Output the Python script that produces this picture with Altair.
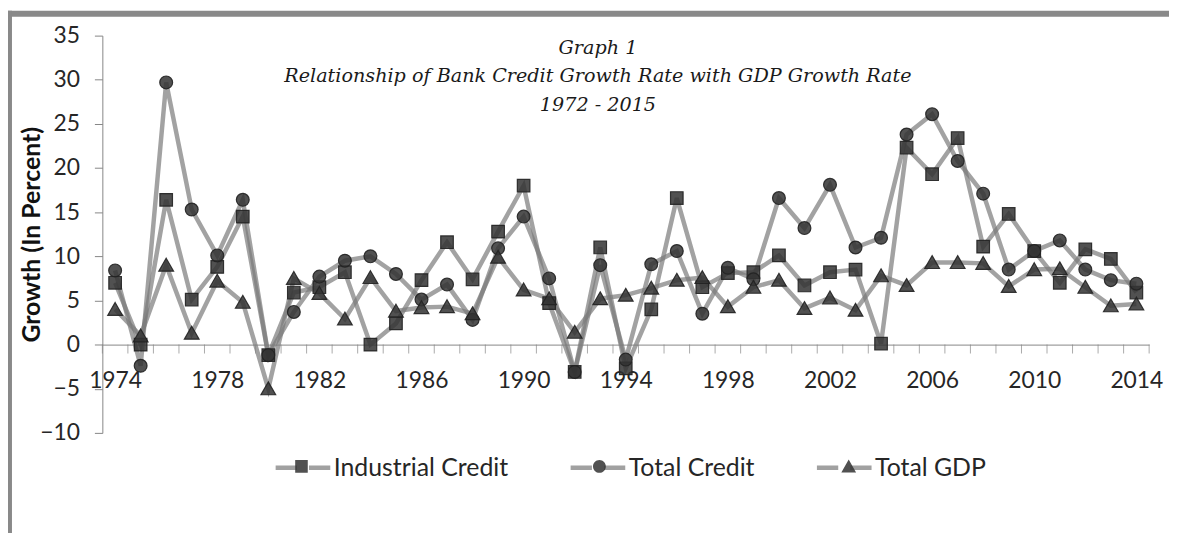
import altair as alt
import pandas as pd

years = list(range(1974, 2015))
industrial = [7.0, 0.0, 16.4, 5.1, 8.8, 14.5, -1.2, 5.9, 6.5, 8.2,
              0.0, 2.4, 7.3, 11.6, 7.4, 12.8, 18.0, 4.7, -3.1, 11.0,
              -2.7, 4.0, 16.6, 6.5, 8.1, 8.2, 10.1, 6.7, 8.2, 8.5,
              0.1, 22.3, 19.3, 23.4, 11.1, 14.8, 10.6, 7.0, 10.8, 9.7, 5.9]
total_credit = [8.4, -2.4, 29.7, 15.3, 10.1, 16.4, -1.2, 3.7, 7.7, 9.5,
                10.0, 8.0, 5.1, 6.8, 2.8, 10.9, 14.5, 7.5, -3.1, 9.0,
                -1.7, 9.1, 10.6, 3.5, 8.7, 7.4, 16.6, 13.2, 18.1, 11.0,
                12.1, 23.8, 26.1, 20.8, 17.1, 8.5, 10.6, 11.8, 8.5, 7.3, 6.9]
total_gdp = [4.0, 1.0, 9.0, 1.3, 7.2, 4.8, -5.0, 7.5, 5.8, 2.9,
             7.6, 3.8, 4.2, 4.3, 3.5, 9.9, 6.2, 5.2, 1.4, 5.2,
             5.6, 6.4, 7.3, 7.6, 4.3, 6.5, 7.3, 4.1, 5.3, 3.9,
             7.8, 6.7, 9.3, 9.3, 9.2, 6.6, 8.5, 8.6, 6.5, 4.4, 4.6]
series_names = ["Industrial Credit", "Total Credit", "Total GDP"]
y_ticks = list(range(-10, 40, 5))
x_label_years = list(range(1974, 2015, 4))
title_lines = ["Graph 1",
               "Relationship of Bank Credit Growth Rate with GDP Growth Rate",
               "1972 - 2015"]

# the marker legend uses tagged names so it is not merged with the line legend
marker_names = [n + "#" for n in series_names]

rows = []
for name, mname, vals in zip(series_names, marker_names, [industrial, total_credit, total_gdp]):
    for yr, v in zip(years, vals):
        rows.append({"year": yr, "value": v, "series": name, "series_m": mname})
df = pd.DataFrame(rows)
ticks_df = pd.DataFrame({"b": [y + 0.5 for y in [years[0] - 1] + years]})

W, H = 1054, 400
x_scale = alt.Scale(domain=[years[0] - 0.5, years[-1] + 0.5], nice=False, zero=False)
y_scale = alt.Scale(domain=[-10, 35], nice=False, zero=False)

# invisible extent so marker symbols and line symbols share the same bounds in the legend
EXT = "M-1,0L-1,0M1,0L1,0"
SQUARE = EXT + "M-0.23,-0.23H0.23V0.23H-0.23Z"
CIRCLE = EXT + "M-0.235,0A0.235,0.235,0,1,0,0.235,0A0.235,0.235,0,1,0,-0.235,0Z"
TRIANGLE = EXT + "M0,-0.25L0.27,0.22H-0.27Z"
LINE_SYM = "M-1,0H-0.22M0.22,0H1"
SYM = 3025

AXC = "#868686"
TXT = "#262626"

leg_common = dict(orient="none", legendX=172, legendY=405, direction="horizontal",
                  columns=3, title=None, symbolSize=SYM, labelFont="Lato",
                  labelFontSize=25, labelColor=TXT, labelOffset=1, labelLimit=400,
                  padding=0, labelExpr="replace(datum.label, '#', '')")

top_border = alt.Chart(alt.Data(values=[{"k": 0}])).mark_rule(
    color="#898989", strokeWidth=6).encode(
    x=alt.value(-97), x2=alt.value(1080), y=alt.value(-22))
left_border = alt.Chart(alt.Data(values=[{"k": 0}])).mark_rule(
    color="#898989", strokeWidth=6).encode(
    x=alt.value(-94), y=alt.value(-25), y2=alt.value(510))

lines = alt.Chart(df).mark_line(strokeWidth=4.5, opacity=0.7).encode(
    x=alt.X("year:Q", scale=x_scale, axis=alt.Axis(
        values=x_label_years, format="d", tickSize=0, labelPadding=25,
        labelFont="Lato", labelFontSize=23, labelColor=TXT, domainColor=AXC,
        title=None, grid=False, offset=-H * 10 / 45, labelFlush=False)),
    y=alt.Y("value:Q", scale=y_scale, axis=alt.Axis(
        values=y_ticks, tickSize=8, labelPadding=15, labelFont="Lato",
        labelFontSize=23, labelColor=TXT, domainColor=AXC, tickColor=AXC,
        grid=False, title="Growth (In Percent)", titleFont="Lato",
        titleFontWeight="bold", titleFontSize=25, titleColor="#111111",
        titleX=-71, titleY=200, titleAngle=270, titleAlign="center",
        titleBaseline="middle")),
    color=alt.Color("series:N", scale=alt.Scale(domain=series_names, range=["#7a7a7a"] * 3),
                    legend=alt.Legend(symbolType=LINE_SYM, symbolStrokeWidth=4.5,
                                      symbolStrokeColor="#7a7a7a", symbolOpacity=0.7,
                                      columnPadding=53, **leg_common)),
)

xticks = alt.Chart(ticks_df).mark_tick(orient="vertical", size=9, thickness=1,
                                       color=AXC, yOffset=4.5).encode(
    x=alt.X("b:Q", scale=x_scale), y=alt.datum(0))

points = alt.Chart(df).mark_point(filled=True, size=SYM, fill="#333333", fillOpacity=0.85,
                                  stroke="#222222", strokeWidth=1.2, strokeOpacity=0.9,
                                  strokeCap="butt").encode(
    x="year:Q", y="value:Q",
    shape=alt.Shape("series_m:N", scale=alt.Scale(domain=marker_names, range=[SQUARE, CIRCLE, TRIANGLE]),
                    legend=alt.Legend(symbolFillColor="#333333", symbolStrokeColor="#222222",
                                      symbolStrokeWidth=1.2, symbolOpacity=0.85,
                                      labelOpacity=0, columnPadding=64, **leg_common)),
)

chart = alt.layer(top_border, left_border, lines, xticks, points).properties(
    width=W, height=H,
    title=alt.TitleParams(text=title_lines, font="DejaVu Serif", fontStyle="italic",
                          fontWeight="normal", fontSize=19.3, lineHeight=28.5,
                          color="#1a1a1a", anchor="middle", dx=-28, offset=-108),
    autosize=alt.AutoSizeParams(type="none"),
    padding={"left": 95, "top": 26, "right": 20, "bottom": 99},
).configure_view(stroke="transparent")

chart.save("out.html", embed_options={"renderer": "svg", "actions": False})
